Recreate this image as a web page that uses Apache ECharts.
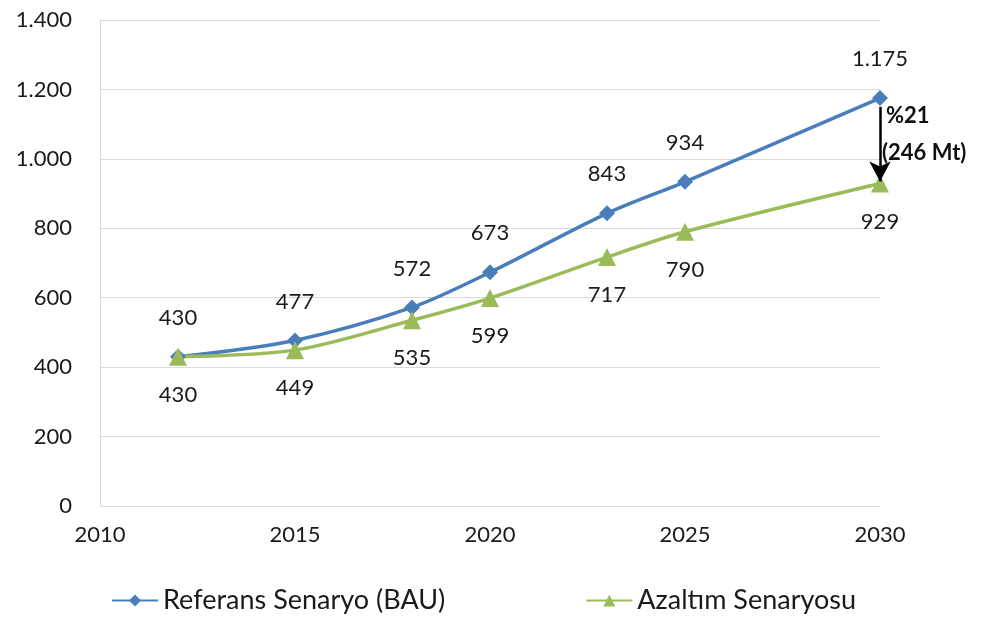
<!DOCTYPE html>
<html><head><meta charset="utf-8">
<script src="https://cdn.jsdelivr.net/npm/echarts@6/dist/echarts.min.js"></script>
<style>html,body{margin:0;padding:0;background:#fff}#c{width:986px;height:619px}</style>
</head><body><div id="c"></div>
<script>
const years = [2012, 2015, 2018, 2020, 2023, 2025, 2030];
const refValues = [430, 477, 572, 673, 843, 934, 1175];
const azValues = [430, 449, 535, 599, 717, 790, 929];
const seriesNames = ['Referans Senaryo (BAU)', 'Azaltım Senaryosu'];
const annotationLines = ['%21', '(246 Mt)'];

function fmt(v){ return String(v).replace(/\B(?=(\d{3})+(?!\d))/g, '.'); }
const FONT = 'Lato, "Open Sans", sans-serif';
const chart = echarts.init(document.getElementById('c'));
chart.setOption({
  animation:false,
  textStyle:{fontFamily:FONT},
  grid:{left:100, right:106, top:20, bottom:113, containLabel:false},
  xAxis:{type:'value', min:2010, max:2030, interval:5,
    axisLine:{show:true, lineStyle:{color:'#d9d9d9'}}, axisTick:{show:false},
    splitLine:{show:false},
    axisLabel:{color:'#1a1a1a', fontSize:22, margin:18, fontFamily:FONT, formatter:v=>String(v)}},
  yAxis:{type:'value', min:0, max:1400, interval:200,
    axisLine:{show:true, lineStyle:{color:'#d9d9d9'}}, axisTick:{show:false},
    splitLine:{lineStyle:{color:'#d9d9d9'}},
    axisLabel:{color:'#1a1a1a', fontSize:22, margin:28, formatter:fmt, fontFamily:FONT}},
  legend:{bottom:0, left:106, itemGap:140, itemWidth:46, itemHeight:15,
    textStyle:{fontSize:27, color:'#1a1a1a', fontFamily:FONT}, data:seriesNames},
  series:[
    {name:seriesNames[0], type:'line', smooth:0.3, data:years.map((y,i)=>[y,refValues[i]]),
     symbol:'diamond', symbolSize:16, lineStyle:{width:3.5, color:'#4a7ebb'}, itemStyle:{color:'#4a7ebb'},
     label:{show:true, position:'top', distance:20, fontSize:22, color:'#1a1a1a', fontFamily:FONT,
       formatter:p=>fmt(p.value[1])},
     markLine:{silent:true, symbol:['none','arrow'], symbolSize:[16,20],
       lineStyle:{color:'#000', width:2.5, type:'solid'}, label:{show:false},
       data:[[{coord:[2030,1150]},{coord:[2030,935]}]]}},
    {name:seriesNames[1], type:'line', smooth:0.3, data:years.map((y,i)=>[y,azValues[i]]),
     symbol:'triangle', symbolSize:18, lineStyle:{width:3.5, color:'#9bbb59'}, itemStyle:{color:'#9bbb59'},
     label:{show:true, position:'bottom', distance:18, fontSize:22, color:'#1a1a1a', fontFamily:FONT,
       formatter:p=>fmt(p.value[1])}}
  ],
  graphic:[
    {type:'text', left:886, top:105, style:{text:annotationLines[0], font:'bold 22px '+FONT, fill:'#111'}},
    {type:'text', left:882, top:142, style:{text:annotationLines[1], font:'bold 22px '+FONT, fill:'#111'}}
  ]
});
</script></body></html>
